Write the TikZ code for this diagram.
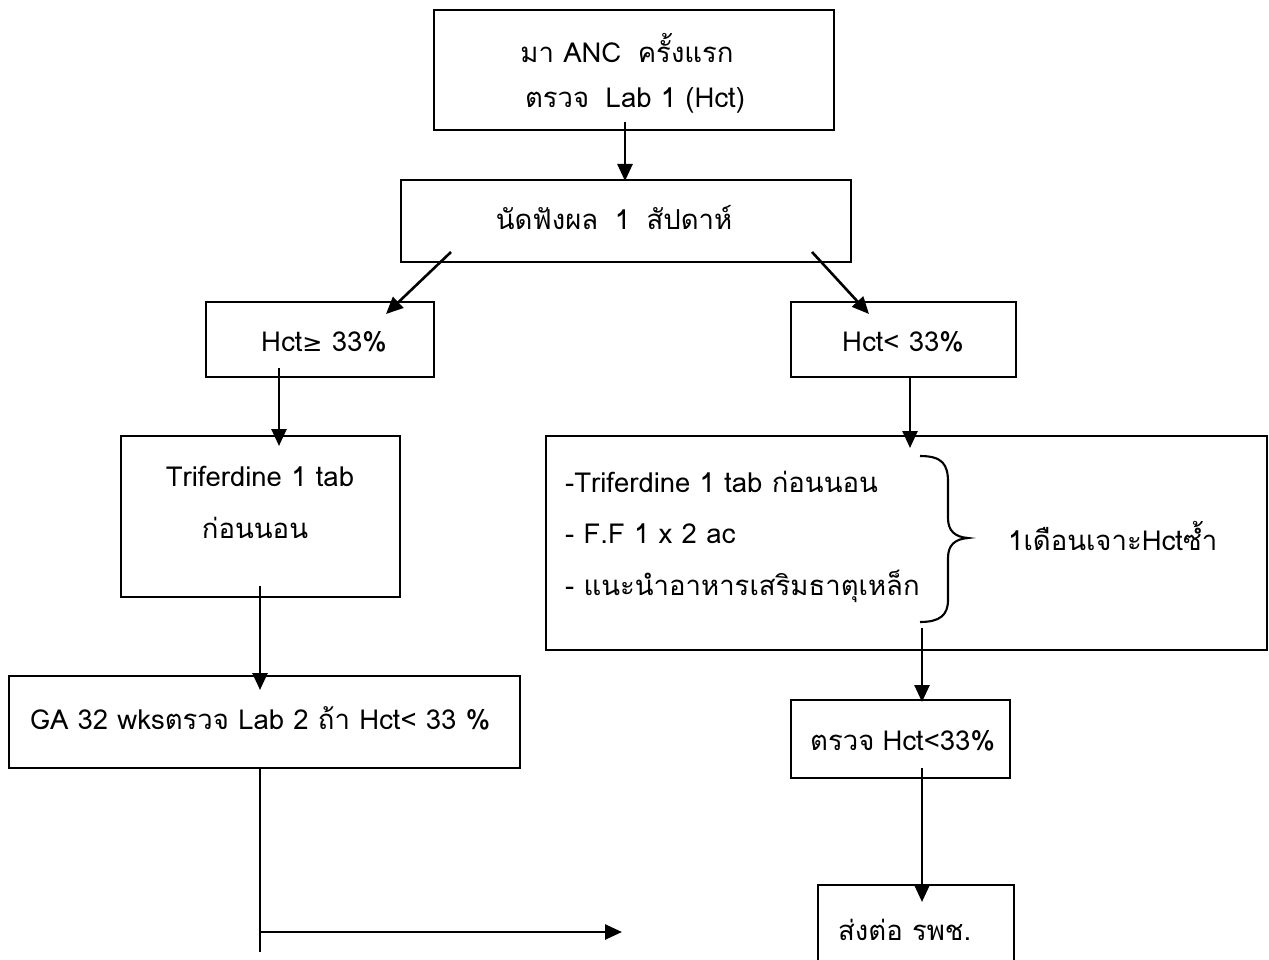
\documentclass[tikz,border=0pt]{standalone}
\usepackage{fontspec}
\setmainfont[Script=Thai]{Loma}
\newfontfamily\symfont{DejaVu Sans}
\usetikzlibrary{arrows.meta}
\tikzset{
  box/.style={draw, line width=2.1pt, inner sep=0pt},
  lbl/.style={inner sep=0pt, font=\fontsize{27.5}{32}\selectfont},
  arr/.style={line width=2.6pt, -{Triangle[length=17pt,width=15pt]}},
  ln/.style={line width=2.1pt}
}
\newcommand{\gapsp}{\hspace{0.3em}}
\begin{document}
\begin{tikzpicture}[x=1pt,y=-1pt]
\useasboundingbox (0,0) rectangle (1269,960);
% boxes
\node[box, minimum width=400, minimum height=120] (b1) at (634,70) {};
\node[box, minimum width=450, minimum height=82] (b2) at (626,221) {};
\node[box, minimum width=228, minimum height=75] (b3) at (320,339.5) {};
\node[box, minimum width=225, minimum height=75] (b4) at (903.5,339.5) {};
\node[box, minimum width=279, minimum height=161] (b5) at (260.5,516.5) {};
\node[box, minimum width=721, minimum height=214] (b6) at (906.5,543) {};
\node[box, minimum width=511, minimum height=92] (b7) at (264.5,722) {};
\node[box, minimum width=219, minimum height=78] (b8) at (900.5,739) {};
\node[box, minimum width=196, minimum height=100] (b9) at (916,935) {};
% texts
\node[lbl] (t1a) at (627,48) {มา ANC\gapsp\gapsp ครั้งแรก};
\node[lbl] (t1b) at (635,100) {ตรวจ\gapsp\gapsp Lab 1 (Hct)};
\node[lbl] (t2) at (614,218) {นัดฟังผล\gapsp\gapsp 1\gapsp\gapsp สัปดาห์};
\node[lbl] (t3) at (324,342) {Hct{\symfont\fontsize{24}{28}\selectfont ≥} 33\%};
\node[lbl] (t4) at (903,342) {Hct< 33\%};
\node[lbl] (t5a) at (260,476) {Triferdine 1 tab};
\node[lbl] (t5b) at (255,528) {ก่อนนอน};
\node[lbl, anchor=west] (t6a) at (565,482) {-Triferdine 1 tab ก่อนนอน};
\node[lbl, anchor=west] (t6b) at (565,534) {- F.F 1 x 2 ac};
\node[lbl, anchor=west] (t6c) at (565,586) {- แนะนำอาหารเสริมธาตุเหล็ก};
\node[lbl, anchor=west] (t6d) at (1008,536) {1เดือนเจาะHctซ้ำ};
\node[lbl, anchor=west] (t7) at (30,718) {GA 32 wksตรวจ Lab 2 ถ้า Hct< 33 \%};
\node[lbl, anchor=west] (t8) at (810,741) {ตรวจ\gapsp Hct<33\%};
\node[lbl, anchor=west] (t9) at (838,930) {ส่งต่อ รพช.};
% connector coordinates
\coordinate (a1s) at (625,122);
\coordinate (a1e) at (625,181);
\coordinate (a2s) at (451,252);
\coordinate (a2e) at (386,314);
\coordinate (a3s) at (812,252);
\coordinate (a3e) at (869,314);
\coordinate (a4s) at (279,368);
\coordinate (a4e) at (279,446);
\coordinate (a5s) at (910,378);
\coordinate (a5e) at (910,448);
\coordinate (a6s) at (260,586);
\coordinate (a6e) at (260,690);
\coordinate (a7s) at (922,628);
\coordinate (a7e) at (922,702);
\coordinate (a8s) at (922,768);
\coordinate (a8e) at (922,902);
\coordinate (l1e) at (260,952);
\coordinate (l1m) at (260,932);
\coordinate (l1a) at (622,932);
% connectors
\draw[arr] (a1s) -- (a1e);
\draw[arr] (a2s) -- (a2e);
\draw[arr] (a3s) -- (a3e);
\draw[arr] (a4s) -- (a4e);
\draw[arr] (a5s) -- (a5e);
\draw[arr] (a6s) -- (a6e);
\draw[arr] (a7s) -- (a7e);
\draw[arr] (a8s) -- (a8e);
\draw[ln] (l1e |- b7.south) -- (l1e);
\draw[arr] (l1m) -- (l1a);
% brace
\draw[ln] (920,456) .. controls (942,456) and (948,464) .. (948,482)
  -- (948,518) .. controls (948,531) and (955,537) .. (968,538)
  .. controls (955,539) and (948,545) .. (948,558)
  -- (948,600) .. controls (948,615) and (940,622) .. (920,622);
\end{tikzpicture}
\end{document}
